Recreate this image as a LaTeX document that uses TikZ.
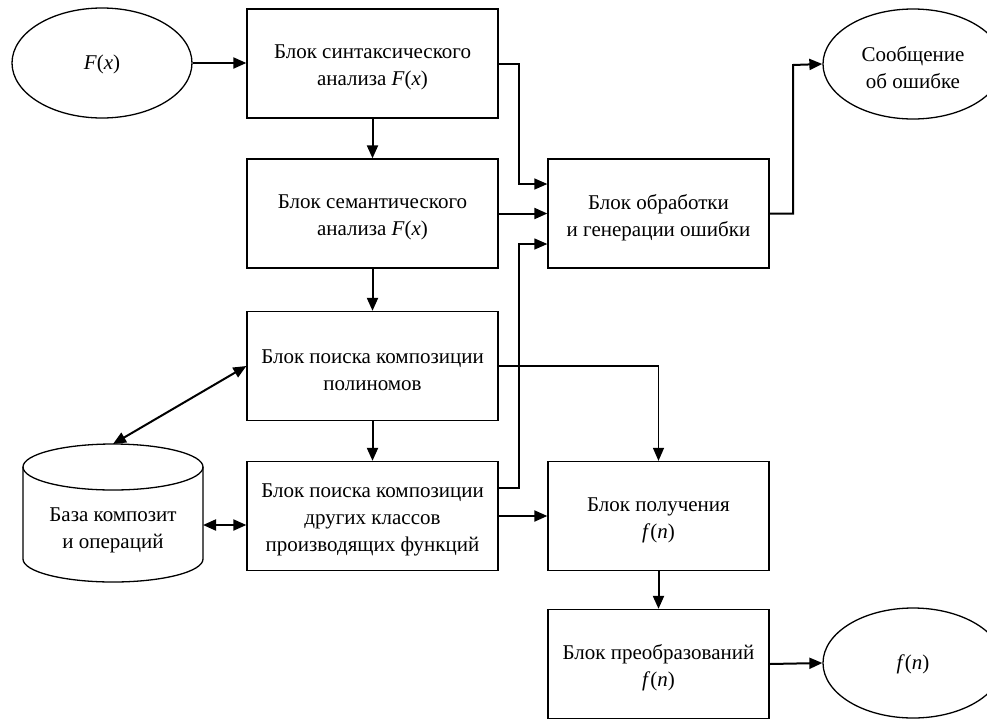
\documentclass[tikz,border=0pt]{standalone}
\usepackage{fontspec}
\setmainfont{Liberation Serif}
\usetikzlibrary{arrows.meta,shapes.geometric}
\begin{document}
\begin{tikzpicture}[x=1pt,y=-1pt,
  txtfont/.style={font=\fontsize{21}{27}\selectfont},
  lbl/.style={txtfont,align=center,inner sep=0pt,yshift=-4pt},
  blk/.style={draw,line width=1.3pt,minimum height=109pt,inner sep=0pt},
  wideblk/.style={blk,minimum width=251pt},
  narrowblk/.style={blk,minimum width=221pt},
  oval/.style={draw,ellipse,line width=1.3pt,minimum width=180pt,minimum height=110pt,inner sep=0pt},
  thickarr/.style={line width=2pt,-{Triangle[length=13pt,width=11pt]}},
  thinarr/.style={line width=1.3pt,-{Triangle[length=13pt,width=11pt]}},
  dblarr/.style={line width=2pt,{Triangle[length=13pt,width=11pt]}-{Triangle[length=13pt,width=11pt]}}
]
\clip (0,0) rectangle (987,718);
\fill[white] (0,0) rectangle (987,718);

% nodes
\node[oval,label={[lbl,yshift=3pt]center:\textit{F}(\textit{x})}] (fx) at (102,63) {};
\node[wideblk,label={[lbl]center:Блок синтаксического\\анализа \textit{F}(\textit{x})}] (syn) at (372.5,63.5) {};
\node[wideblk,label={[lbl]center:Блок семантического\\анализа \textit{F}(\textit{x})}] (sem) at (372.5,213.5) {};
\node[wideblk,label={[lbl]center:Блок поиска композиции\\полиномов}] (poly) at (372.5,366) {};
\node[wideblk,label={[lbl]center:Блок поиска композиции\\других классов\\производящих функций}] (other) at (372.5,516) {};
\node[narrowblk,label={[lbl]center:Блок обработки\\и генерации ошибки}] (err) at (658.5,213.5) {};
\node[oval,label={[lbl]center:Сообщение\\об ошибке}] (msg) at (913,64) {};
\node[narrowblk,label={[lbl]center:Блок получения\\\textit{f}(\textit{n})}] (get) at (658.5,516) {};
\node[narrowblk,label={[lbl]center:Блок преобразований\\\textit{f}(\textit{n})}] (trans) at (658.5,664) {};
\node[oval,label={[lbl,yshift=3pt]center:\textit{f}(\textit{n})}] (fn) at (913,663) {};

% cylinder database
\draw[line width=1.3pt] (23,467) -- (23,559) arc[start angle=180,end angle=0,x radius=90,y radius=23] -- (203,467);
\draw[line width=1.3pt] (113,467) ellipse [x radius=90, y radius=23];
\node[txtfont,align=center,inner sep=0pt] (db) at (113,530) {База композит\\и операций};
\coordinate (dbtop) at (113,444);
\coordinate (dbright) at (203,525);

% helper levels for elbow connectors
\coordinate (ya) at (0,184);
\coordinate (yb) at (0,244);
\coordinate (yc) at (0,64);
\coordinate (yd) at (0,488);

% straight connectors
\draw[thickarr] (fx.east) -- (syn.west |- fx.east);
\draw[thickarr] (syn.south) -- (sem.north);
\draw[thickarr] (sem.south) -- (poly.north);
\draw[thickarr] (poly.south) -- (other.north);
\draw[thickarr] (sem.east) -- (err.west);
\draw[thickarr] (other.east |- get.west) -- (get.west);
\draw[thickarr] (get.south) -- (trans.north);
\draw[thickarr] (trans.east) -- (fn.west);
\draw[dblarr] (dbright) -- (other.west |- dbright);
\draw[dblarr] (dbtop) -- (poly.west);

% elbow connectors
\draw[thinarr] (syn.east |- yc) -- (519,64) -- (519,184) -- (err.west |- ya);
\draw[thinarr] (other.east |- yd) -- (519,488) -- (519,244) -- (err.west |- yb);
\draw[thinarr] (poly.east) -- (658.5,366) -- (get.north);
\draw[thickarr] (err.east) -- (793,213.5) -- (793,65) -- (msg.west);
\end{tikzpicture}
\end{document}
